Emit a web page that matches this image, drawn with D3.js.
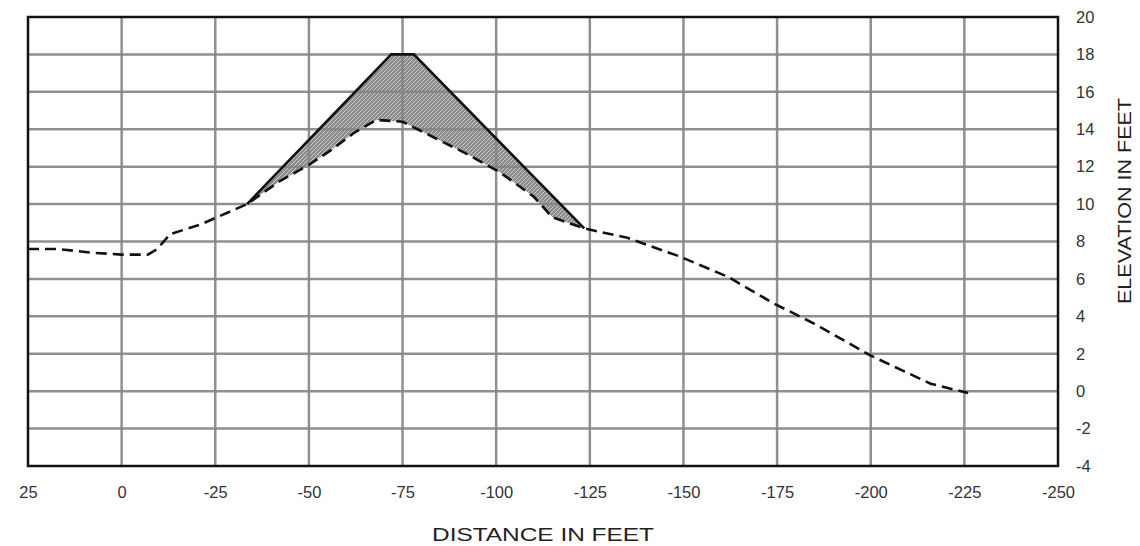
<!DOCTYPE html>
<html><head><meta charset="utf-8">
<script src="https://cdn.jsdelivr.net/npm/d3@7"></script>
<style>
html,body{margin:0;padding:0;background:#fff;}
svg{display:block;font-family:"Liberation Sans",Arial,sans-serif;}
</style></head>
<body>
<svg id="c" width="1140" height="546"></svg>
<script>
// ---- data ----
const xTicks = [25, 0, -25, -50, -75, -100, -125, -150, -175, -200, -225, -250];
const yTicks = [-4, -2, 0, 2, 4, 6, 8, 10, 12, 14, 16, 18, 20];
const groundDist = [25, 17, 8, 0, -7, -9.5, -13, -21, -25.5, -33.5, -42, -50, -56, -62, -68, -75, -83, -92, -101, -110, -115, -123.5, -135, -149, -162, -174, -185, -200, -216, -226];
const groundElev = [7.6, 7.6, 7.4, 7.3, 7.3, 7.6, 8.4, 8.9, 9.3, 10.0, 11.2, 12.1, 12.9, 13.8, 14.5, 14.4, 13.6, 12.7, 11.7, 10.4, 9.3, 8.7, 8.2, 7.2, 6.1, 4.7, 3.6, 1.9, 0.4, -0.1];
const embDist = [-33.5, -72, -78, -123.5];
const embElev = [10.0, 18, 18, 8.7];
const xTitle = "DISTANCE IN FEET";
const yTitle = "ELEVATION IN FEET";

// ---- layout ----
const L = 28, R = 1058, T = 17, B = 466;
const svg = d3.select("#c");
const x = d3.scaleLinear().domain([25, -250]).range([L, R]);
const y = d3.scaleLinear().domain([-4, 20]).range([B, T]);

const ground = groundDist.map((d, i) => [d, groundElev[i]]);
const emb = embDist.map((d, i) => [d, embElev[i]]);

// hatch pattern
const defs = svg.append("defs");
const pat = defs.append("pattern").attr("id", "hatch").attr("patternUnits", "userSpaceOnUse")
  .attr("width", 4).attr("height", 4);
pat.append("rect").attr("width", 4).attr("height", 4).attr("fill", "#8e8e8e");
pat.append("path").attr("d", "M-1,1 l2,-2 M0,4 l4,-4 M3,5 l2,-2").attr("stroke", "#c8c8c8").attr("stroke-width", 1);

// fill area between embankment and ground
const lo = emb[0][0], hi = emb[emb.length - 1][0];
const under = ground.filter(p => p[0] < lo && p[0] > hi);
const poly = emb.concat(under.slice().reverse());
const line = d3.line().x(p => x(p[0])).y(p => y(p[1]));
svg.append("path").attr("d", line(poly) + "Z").attr("fill", "url(#hatch)");

// grid
svg.append("g").selectAll("line").data(xTicks.slice(1, -1)).join("line")
  .attr("x1", d => x(d)).attr("x2", d => x(d)).attr("y1", T).attr("y2", B)
  .attr("stroke", "#858585").attr("stroke-width", 2.5).attr("opacity", 0.9);
svg.append("g").selectAll("line").data(yTicks.slice(1, -1)).join("line")
  .attr("y1", d => y(d)).attr("y2", d => y(d)).attr("x1", L).attr("x2", R)
  .attr("stroke", "#858585").attr("stroke-width", 2.5).attr("opacity", 0.9);

// border
svg.append("rect").attr("x", L).attr("y", T).attr("width", R - L).attr("height", B - T)
  .attr("fill", "none").attr("stroke", "#111").attr("stroke-width", 2.5);

// ground (dashed)
svg.append("path").attr("d", line(ground)).attr("fill", "none").attr("stroke", "#111")
  .attr("stroke-width", 2.6).attr("stroke-dasharray", "11,6");
// embankment (solid)
svg.append("path").attr("d", line(emb)).attr("fill", "none").attr("stroke", "#111")
  .attr("stroke-width", 2.6).attr("stroke-linejoin", "miter");

// axes labels
const xAxis = d3.axisBottom(x).tickValues(xTicks).tickSize(0).tickPadding(20)
  .tickFormat(d => String(d));
const gx = svg.append("g").attr("transform", `translate(0,${B})`).call(xAxis);
gx.select(".domain").remove();
gx.selectAll("text").attr("font-size", 16.5).attr("fill", "#333").attr("font-family", "Liberation Sans, Arial, sans-serif");

const yAxis = d3.axisRight(y).tickValues(yTicks).tickSize(0).tickPadding(18)
  .tickFormat(d => String(d));
const gy = svg.append("g").attr("transform", `translate(${R},0)`).call(yAxis);
gy.select(".domain").remove();
gy.selectAll("text").attr("font-size", 16.5).attr("fill", "#333").attr("font-family", "Liberation Sans, Arial, sans-serif");

// titles
svg.append("text").attr("x", 543).attr("y", 541).attr("text-anchor", "middle")
  .attr("font-size", 19).attr("fill", "#222")
  .attr("textLength", 222).attr("lengthAdjust", "spacingAndGlyphs").text(xTitle);
svg.append("text").attr("transform", "translate(1131,201) rotate(-90)").attr("text-anchor", "middle")
  .attr("font-size", 19).attr("fill", "#222")
  .attr("textLength", 206).attr("lengthAdjust", "spacingAndGlyphs").text(yTitle);
</script>
</body></html>
